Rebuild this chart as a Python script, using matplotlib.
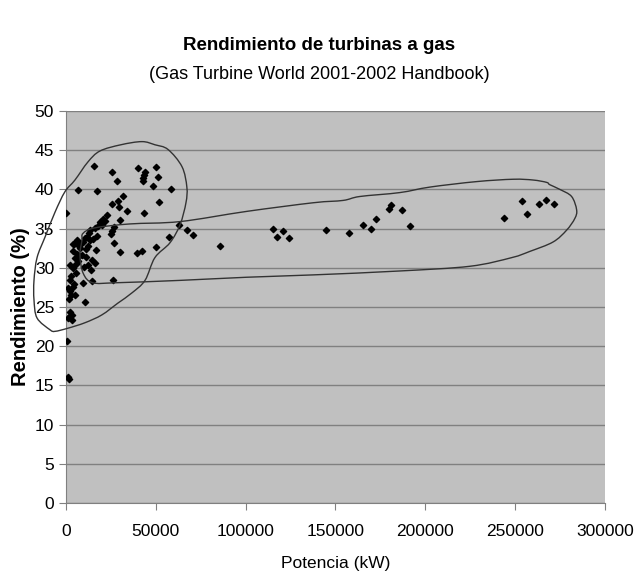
import matplotlib
matplotlib.use("Agg")
import matplotlib.pyplot as plt
from matplotlib.path import Path
from matplotlib.patches import PathPatch

# Turbine power (kW) and efficiency (%)
power_kw = [
    0, 15800, 6500, 17000, 25400, 28400, 31900, 25600, 28800, 29500, 33800,
    40300, 44000, 43600, 42700, 42700, 50300, 51400, 48300, 58300, 51600,
    43200, 30000, 26900, 25600, 25000, 26900, 30200, 39700, 42100, 50100,
    57300, 63100, 67200, 70500, 26300, 22600, 20800, 18900, 18000, 16100,
    13400, 13000, 11900, 10600, 9300, 7800, 4500, 3700, 13400, 11100, 14300,
    16100, 13700, 16700, 10200, 14600, 9300, 5600, 4100, 2200, 1300, 10600,
    400, 1300, 1500, 3200, 1000, 2000, 3500, 2500, 6000, 7500, 6500, 5500,
    5000, 4000, 3000, 2500, 4500, 2000, 3000, 1800, 4000, 8000, 7000, 9000,
    12000, 15000, 11000, 12500, 6000, 20000, 22000, 17500, 5000,
    85700, 115000, 117300, 121000, 124000, 144700, 157700, 165500, 169800,
    172500, 179800, 180700, 187200, 191500, 243800, 254000, 256600, 263100,
    267000, 271500,
]
efficiency = [
    37.0, 43.0, 39.9, 39.8, 42.2, 41.1, 39.1, 38.1, 38.5, 37.8, 37.2,
    42.7, 42.2, 41.9, 41.5, 41.1, 42.9, 41.6, 40.5, 40.1, 38.4,
    37.0, 36.1, 35.2, 34.7, 34.3, 33.2, 32.0, 31.9, 32.1, 32.7,
    33.9, 35.5, 34.8, 34.2, 28.5, 36.7, 36.2, 35.8, 35.4, 35.1,
    34.8, 34.5, 33.9, 33.8, 33.3, 33.0, 33.0, 32.1, 33.5, 32.4, 31.0,
    30.6, 29.7, 32.3, 30.1, 28.3, 28.1, 29.3, 33.1, 30.4, 27.4, 25.7,
    20.7, 16.1, 15.8, 24.0, 23.6, 24.4, 23.3, 23.9, 31.8, 31.5, 30.9, 30.5,
    31.2, 30.0, 29.0, 28.5, 28.0, 27.0, 26.5, 26.0, 27.5, 32.5, 32.8, 31.7,
    32.8, 33.7, 31.4, 30.4, 33.6, 35.5, 36.0, 34.0, 26.5,
    32.8, 35.0, 33.9, 34.7, 33.8, 34.8, 34.4, 35.5, 34.9,
    36.2, 37.5, 38.0, 37.4, 35.3, 36.4, 38.5, 36.9, 38.2,
    38.6, 38.2,
]

# Hand-drawn outline around the small turbines (closed loop)
small_x = [
    -8900, -16100, -17800, -17800, -16100, -11700, -6100, -600, 5000, 12200,
    18900, 30600, 42300, 49500, 56800, 64600, 67300, 66800, 63500, 57900,
    49500, 44000, 36700, 28900, 20000, 10600, 1100, -6100,
]
small_y = [
    22.1, 23.6, 25.9, 28.4, 31.3, 33.9, 37.1, 39.7, 41.2, 43.5,
    44.9, 45.7, 46.1, 45.7, 45.1, 42.9, 40.3, 38.3, 35.5, 33.2,
    31.3, 28.4, 26.8, 25.5, 24.0, 23.0, 22.3, 21.9,
]

# Hand-drawn outline around the large turbines (closed loop)
large_x = [
    9500, 16100, 35600, 63500, 100600, 137600, 154300, 163600, 185900,
    202600, 228600, 249000, 260100, 267600, 269400, 275000, 281500, 284300,
    283300, 278700, 271200, 258300, 248100, 224900, 185900, 137600, 100600,
    63500, 28200, 14900, 9600, 7800, 8900,
]
large_y = [
    34.4, 35.1, 35.6, 35.9, 37.2, 38.3, 38.6, 39.1, 39.6,
    40.3, 41.0, 41.3, 41.2, 40.9, 40.6, 40.0, 39.1, 37.4,
    36.3, 34.8, 33.3, 32.1, 31.3, 30.2, 29.6, 29.1, 28.8,
    28.4, 28.1, 28.1, 29.3, 31.6, 33.5,
]


def smooth_loop(xs, ys):
    # closed Catmull-Rom loop written as cubic Bezier segments
    n = len(xs)
    verts = [(xs[0], ys[0])]
    codes = [Path.MOVETO]
    for i in range(n):
        p0 = (xs[i - 1], ys[i - 1])
        p1 = (xs[i], ys[i])
        p2 = (xs[(i + 1) % n], ys[(i + 1) % n])
        p3 = (xs[(i + 2) % n], ys[(i + 2) % n])
        c1 = (p1[0] + (p2[0] - p0[0]) / 6, p1[1] + (p2[1] - p0[1]) / 6)
        c2 = (p2[0] - (p3[0] - p1[0]) / 6, p2[1] - (p3[1] - p1[1]) / 6)
        verts += [c1, c2, p2]
        codes += [Path.CURVE4] * 3
    return Path(verts, codes)


plt.rcParams['font.family'] = ['Liberation Sans', 'DejaVu Sans']

fig = plt.figure(figsize=(6.38, 5.82), dpi=100)
ax = fig.add_axes([0.1034, 0.1357, 0.8446, 0.6735])
ax.set_facecolor('#c0c0c0')

ax.scatter(power_kw, efficiency, marker='D', s=10, color='black', zorder=3)
for xs, ys in [(small_x, small_y), (large_x, large_y)]:
    ax.add_patch(PathPatch(smooth_loop(xs, ys), fill=False, edgecolor='#333333',
                           lw=1.0, clip_on=False, zorder=4))

ax.set_xlim(0, 300000)
ax.set_ylim(0, 50)
ax.set_xticks(range(0, 300001, 50000))
ax.set_yticks(range(0, 51, 5))
ax.yaxis.grid(True, color='#808080', lw=1)
ax.set_axisbelow(True)

for side in ['top', 'right']:
    ax.spines[side].set_visible(False)
for side in ['left', 'bottom']:
    ax.spines[side].set_color('#808080')
ax.tick_params(axis='both', colors='#808080', labelcolor='black',
               labelsize=12.5, length=5)
ax.tick_params(axis='x', pad=10)

ax.set_xlabel('Potencia (kW)', fontsize=12.5, labelpad=12)
ax.set_ylabel('Rendimiento (%)', fontsize=14.5, fontweight='bold', labelpad=3)

fig.text(0.5, 0.922, 'Rendimiento de turbinas a gas', ha='center',
         va='center', fontsize=13.5, fontweight='bold')
fig.text(0.5, 0.872, '(Gas Turbine World 2001-2002 Handbook)', ha='center',
         va='center', fontsize=13)

fig.savefig('out.png', dpi=100, facecolor='white')
